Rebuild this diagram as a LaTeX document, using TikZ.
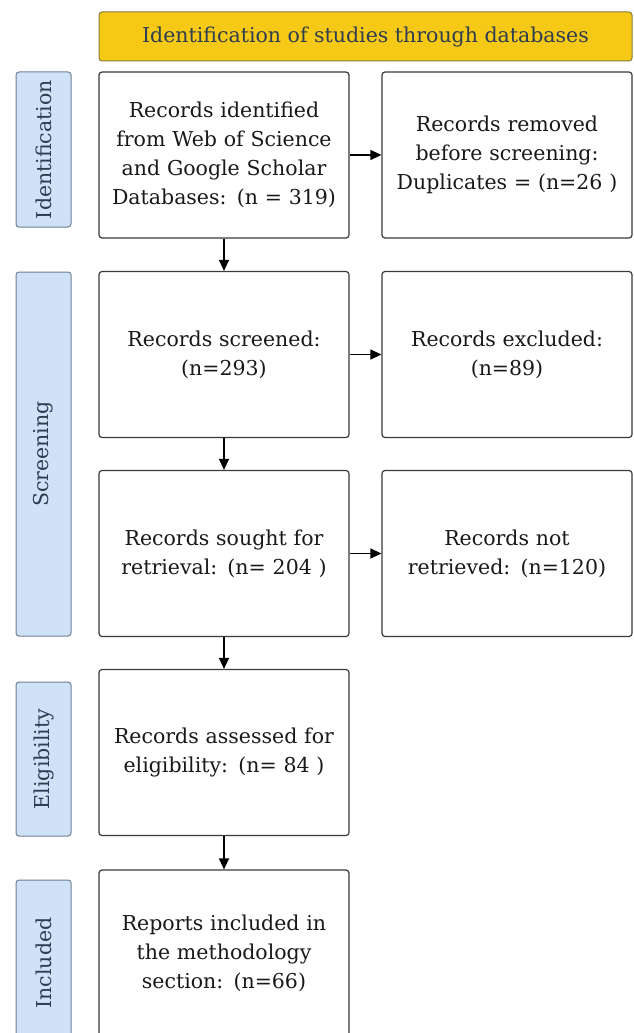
\documentclass[tikz,border=0pt]{standalone}
\usepackage{fontspec}
\setmainfont{DejaVu Serif}
\usetikzlibrary{arrows.meta}

\definecolor{titlefill}{HTML}{F6C917}
\definecolor{titleline}{HTML}{8A7A3A}
\definecolor{phasefill}{HTML}{CFE2F8}
\definecolor{phaseline}{HTML}{6F7F92}
\definecolor{phasetext}{HTML}{2E3D4F}
\definecolor{boxline}{HTML}{3A3A3A}

\begin{document}
\begin{tikzpicture}[x=1pt, y=-1pt,
		recbox/.style={draw=boxline, line width=1.2pt, rounded corners=3pt, fill=white,
			minimum width=250pt, minimum height=166pt, align=center, inner sep=3pt,
			font=\fontsize{20.5}{29}\selectfont, text width=244pt, text=black!90},
		phase/.style={draw=phaseline, line width=1pt, rounded corners=3pt, fill=phasefill,
			minimum height=55pt, text=phasetext, rotate=90, anchor=center,
			font=\fontsize{20.5}{23}\selectfont},
		flow/.style={-{Triangle[length=11pt, width=10pt]}, line width=1.2pt, draw=black}]
			\useasboundingbox (0, 0) rectangle (633, 1033);
			\fill[white] (0, 0) rectangle (633, 1033);
			
			\node[draw=titleline, fill=titlefill, rounded corners=3pt, line width=1pt,
				minimum width=533pt, minimum height=49pt, text=phasetext,
				font=\fontsize{20.5}{23}\selectfont] (title) at (365.5, 36.5) {Identification of studies through databases};
			
			\node[recbox] (ident) at (224, 155) {Records identified\\from Web of Science\\and Google Scholar\\Databases: (n = 319)};
			\node[recbox] (removed) at (507, 155) {Records removed\\before screening:\\Duplicates = (n=26 )};
			\node[recbox] (screened) at (224, 354.5) {Records screened:\\(n=293)};
			\node[recbox] (excluded) at (507, 354.5) {Records excluded:\\(n=89)};
			\node[recbox] (sought) at (224, 553.5) {Records sought for\\retrieval: (n= 204 )};
			\node[recbox] (notret) at (507, 553.5) {Records not\\retrieved: (n=120)};
			\node[recbox] (assessed) at (224, 752.5) {Records assessed for\\eligibility: (n= 84 )};
			\node[recbox] (included) at (224, 953) {Reports included in\\the methodology\\section: (n=66)};
			
			\node[phase, minimum width=155pt] (pident) at (43.5, 149.5) {Identification};
			\node[phase, minimum width=364pt] (pscreen) at (43.5, 454) {Screening};
			\node[phase, minimum width=154pt] (pelig) at (43.5, 759) {Eligibility};
			\node[phase, minimum width=166pt] (pincl) at (43.5, 963) {Included};
			
			\foreach \a/\b in {ident/screened, screened/sought, sought/assessed, assessed/included}{
				\draw[flow] (\a.south) -- (\b.north);
			}
			\foreach \a/\b in {ident/removed, screened/excluded, sought/notret}{
				\draw[flow] (\a.east) -- (\b.west);
			}
		\end{tikzpicture}
\end{document}
